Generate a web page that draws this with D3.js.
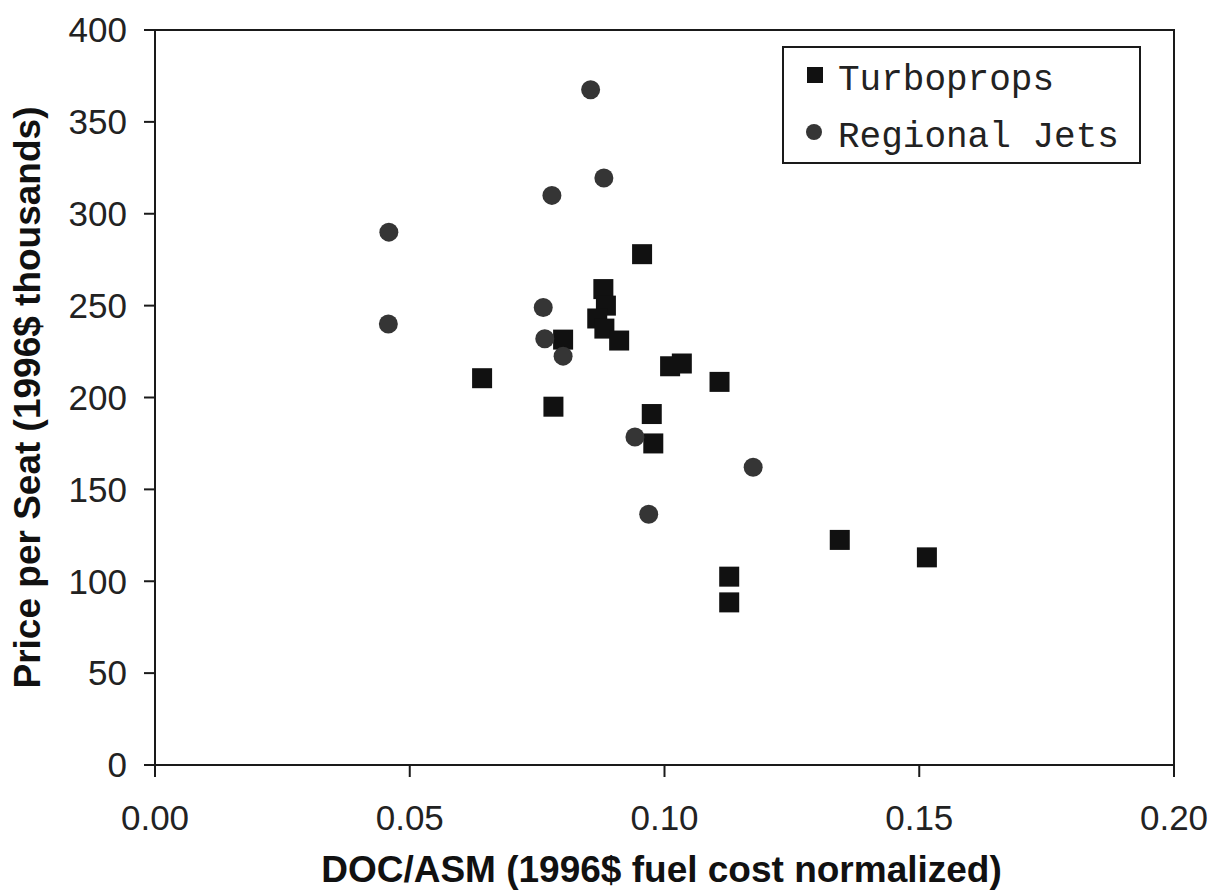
<!DOCTYPE html>
<html>
<head>
<meta charset="utf-8">
<script src="https://cdn.jsdelivr.net/npm/d3@7/dist/d3.min.js"></script>
<style>
  html, body { margin: 0; padding: 0; background: #fff; }
  svg { display: block; }
</style>
</head>
<body>
<script>
// ---- Data ----
const turbopropX = [0.0956, 0.0880, 0.0885, 0.0868, 0.0882, 0.0911, 0.0801, 0.0642, 0.1011, 0.1034, 0.1108, 0.0782, 0.0975, 0.0978, 0.1127, 0.1127, 0.1344, 0.1515];
const turbopropY = [278, 259, 250, 243, 237.5, 231, 231.5, 210.5, 217, 218.5, 208.5, 195, 191, 175, 102.5, 88.5, 122.5, 113];
const jetX = [0.0855, 0.0881, 0.0779, 0.0459, 0.0458, 0.0762, 0.0765, 0.0801, 0.0942, 0.1174, 0.0969];
const jetY = [367.5, 319.5, 310, 290, 240, 249, 232, 222.5, 178.5, 162, 136.5];
const xTicks = [0.00, 0.05, 0.10, 0.15, 0.20];
const yTicks = [0, 50, 100, 150, 200, 250, 300, 350, 400];
const seriesNames = ["Turboprops", "Regional Jets"];
const xTitle = "DOC/ASM (1996$ fuel cost normalized)";
const yTitle = "Price per Seat (1996$ thousands)";

const W = 1225, H = 893;
const plot = { left: 155, right: 1174, top: 30, bottom: 765 };

const svg = d3.select("body").append("svg").attr("width", W).attr("height", H);
svg.append("rect").attr("width", W).attr("height", H).attr("fill", "#fff");

const x = d3.scaleLinear().domain([0, 0.20]).range([plot.left, plot.right]);
const y = d3.scaleLinear().domain([0, 400]).range([plot.bottom, plot.top]);

const ink = "#1a1a1a";

// frame
svg.append("rect")
  .attr("x", plot.left).attr("y", plot.top)
  .attr("width", plot.right - plot.left).attr("height", plot.bottom - plot.top)
  .attr("fill", "none").attr("stroke", ink).attr("stroke-width", 2);

// y ticks + labels
const yg = svg.append("g");
yg.selectAll("line").data(yTicks).join("line")
  .attr("x1", plot.left - 11).attr("x2", plot.left)
  .attr("y1", d => y(d)).attr("y2", d => y(d))
  .attr("stroke", ink).attr("stroke-width", 2);
yg.selectAll("text").data(yTicks).join("text")
  .attr("x", plot.left - 28).attr("y", d => y(d)).attr("dy", "0.35em")
  .attr("text-anchor", "end")
  .attr("font-family", "Liberation Sans, Arial, sans-serif").attr("font-size", 35)
  .attr("fill", "#222")
  .text(d => d3.format("d")(d));

// x ticks + labels
const xg = svg.append("g");
xg.selectAll("line").data(xTicks).join("line")
  .attr("x1", d => x(d)).attr("x2", d => x(d))
  .attr("y1", plot.bottom).attr("y2", plot.bottom + 12)
  .attr("stroke", ink).attr("stroke-width", 2);
xg.selectAll("text").data(xTicks).join("text")
  .attr("x", d => x(d)).attr("y", plot.bottom + 65)
  .attr("text-anchor", "middle")
  .attr("font-family", "Liberation Sans, Arial, sans-serif").attr("font-size", 35)
  .attr("fill", "#222")
  .text(d => d3.format(".2f")(d));

// axis titles
svg.append("text")
  .attr("x", (plot.left + plot.right) / 2 - 3).attr("y", 882)
  .attr("text-anchor", "middle")
  .attr("font-family", "Liberation Sans, Arial, sans-serif").attr("font-size", 37)
  .attr("font-weight", "bold").attr("fill", "#111")
  .text(xTitle);
svg.append("text")
  .attr("transform", `translate(40, ${(plot.top + plot.bottom) / 2}) rotate(-90)`)
  .attr("text-anchor", "middle")
  .attr("font-family", "Liberation Sans, Arial, sans-serif").attr("font-size", 37)
  .attr("font-weight", "bold").attr("fill", "#111")
  .text(yTitle);

// data
const tp = turbopropX.map((v, i) => ({ x: v, y: turbopropY[i] }));
const rj = jetX.map((v, i) => ({ x: v, y: jetY[i] }));
const sq = 20;
svg.append("g").selectAll("rect").data(tp).join("rect")
  .attr("x", d => x(d.x) - sq / 2).attr("y", d => y(d.y) - sq / 2)
  .attr("width", sq).attr("height", sq).attr("fill", "#111");
svg.append("g").selectAll("circle").data(rj).join("circle")
  .attr("cx", d => x(d.x)).attr("cy", d => y(d.y)).attr("r", 9.5)
  .attr("fill", "#353535");

// legend
const lg = svg.append("g");
lg.append("rect").attr("x", 783).attr("y", 47).attr("width", 357).attr("height", 116)
  .attr("fill", "#fff").attr("stroke", ink).attr("stroke-width", 2);
lg.append("rect").attr("x", 807).attr("y", 67).attr("width", 16).attr("height", 16).attr("fill", "#111");
lg.append("circle").attr("cx", 814).attr("cy", 132).attr("r", 8).attr("fill", "#353535");
lg.selectAll("text.leg").data(seriesNames).join("text")
  .attr("class", "leg")
  .attr("x", 838).attr("y", (d, i) => i === 0 ? 90 : 147)
  .attr("font-family", "Liberation Mono, Courier New, monospace").attr("font-size", 36)
  .attr("fill", "#222")
  .text(d => d);
</script>
</body>
</html>
